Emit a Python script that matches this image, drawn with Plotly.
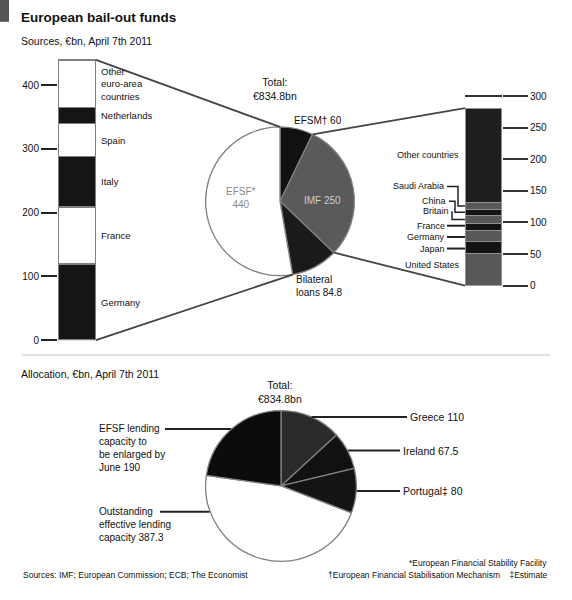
import math
import plotly.graph_objects as go

W, H = 572, 600

# ---------------- data ----------------
efsf_countries = ["Germany", "France", "Italy", "Spain", "Netherlands", "Other euro-area countries"]
efsf_guarantees = [119.4, 89.7, 78.8, 52.4, 25.1, 74.6]

imf_countries = ["United States", "Japan", "Germany", "France", "Britain", "China", "Saudi Arabia", "Other countries"]
imf_contrib = [51, 18.5, 17.5, 11, 13.5, 9.5, 10.5, 149.5]

source_labels = ["EFSM†", "IMF", "Bilateral loans", "EFSF*"]
source_values = [60, 250, 84.8, 440]

alloc_labels = ["Greece", "Ireland", "Portugal‡", "Outstanding effective lending capacity",
                "EFSF lending capacity to be enlarged by June"]
alloc_values = [110, 67.5, 80, 387.3, 190]

left_ticks = [0, 100, 200, 300, 400]
right_ticks = [0, 50, 100, 150, 200, 250, 300]

# ---------------- styles ----------------
efsf_colors = ["#151515", "#ffffff", "#151515", "#ffffff", "#151515", "#ffffff"]
imf_colors = ["#585858", "#141414", "#585858", "#141414", "#585858", "#141414", "#585858", "#1e1e1e"]
source_colors = ["#111111", "#5a5a5a", "#1a1a1a", "#ffffff"]
alloc_colors = ["#2a2a2a", "#111111", "#141414", "#ffffff", "#0c0c0c"]
FONT = "Liberation Sans, Arial, sans-serif"
INK = "#111111"


def px(x):
    return x / W


def py(y):
    return 1 - y / H


# geometry (pixels)
LB = (58, 96)
L0, LK = 343, (343 - 86) / 400
RB = (465, 502)
R0, RK = 288, (288 - 97) / 300
P1 = (280, 203, 75)
P2 = (281, 490, 76)


def left_y(v):
    return L0 - LK * v


def right_y(v):
    return R0 - RK * v


def pie_pt(pie, frac):
    cx, cy, r = pie
    a = 2 * math.pi * frac
    return cx + r * math.sin(a), cy - r * math.cos(a)


fig = go.Figure()

for name, v, c in zip(efsf_countries, efsf_guarantees, efsf_colors):
    fig.add_trace(go.Bar(x=[0], y=[v], name=name, xaxis="x", yaxis="y", width=1,
                         marker=dict(color=c, line=dict(color="#808080", width=1.5))))
for name, v, c in zip(imf_countries, imf_contrib, imf_colors):
    fig.add_trace(go.Bar(x=[0], y=[v], name=name, xaxis="x2", yaxis="y2", width=1,
                         marker=dict(color=c, line=dict(color="#909090", width=1.2))))

fig.add_trace(go.Pie(values=source_values, labels=source_labels, sort=False, direction="clockwise",
                     rotation=0, textinfo="none",
                     marker=dict(colors=source_colors, line=dict(color="#808080", width=1.3)),
                     domain=dict(x=[px(P1[0] - P1[2]), px(P1[0] + P1[2])],
                                 y=[py(P1[1] + P1[2]), py(P1[1] - P1[2])])))
fig.add_trace(go.Pie(values=alloc_values, labels=alloc_labels, sort=False, direction="clockwise",
                     rotation=0, textinfo="none",
                     marker=dict(colors=alloc_colors, line=dict(color="#808080", width=1.3)),
                     domain=dict(x=[px(P2[0] - P2[2]), px(P2[0] + P2[2])],
                                 y=[py(P2[1] + P2[2]), py(P2[1] - P2[2])])))

shapes = []
ann = []


def seg(x0, y0, x1, y1, color="#333", width=1.5):
    shapes.append(dict(type="line", xref="paper", yref="paper", x0=px(x0), y0=py(y0),
                       x1=px(x1), y1=py(y1), line=dict(color=color, width=width)))


def poly(points, color="#222", width=1.5):
    d = "M " + " L ".join(f"{px(x)},{py(y)}" for x, y in points)
    shapes.append(dict(type="path", xref="paper", yref="paper", path=d,
                       line=dict(color=color, width=width)))


def text(x, y, s, size=9, xanchor="left", yanchor="middle", color=INK, align="left", bold=False):
    if bold:
        s = f"<b>{s}</b>"
    ann.append(dict(x=px(x), y=py(y), xref="paper", yref="paper", text=s, showarrow=False,
                    xanchor=xanchor, yanchor=yanchor, align=align, borderpad=0,
                    font=dict(family=FONT, size=size, color=color)))


# header
shapes.append(dict(type="rect", xref="paper", yref="paper", x0=0, x1=px(9), y0=py(22), y1=1,
                   fillcolor="#555", line=dict(width=0)))
text(20, 18, "European bail-out funds", size=13.5, bold=True)
text(20, 41, "Sources, €bn, April 7th 2011", size=10.5)

# left bar labels
cum = 0
for name, v in zip(efsf_countries, efsf_guarantees):
    mid = cum + v / 2
    cum += v
    label = name if name != "Other euro-area countries" else "Other<br>euro-area<br>countries"
    text(100, left_y(mid), label, size=9.5)
efsf_total = cum

# right bar labels and leaders
imf_cum = []
c = 0
for v in imf_contrib:
    imf_cum.append(c)
    c += v
imf_total = c
label_pos = {"United States": (461, None), "Japan": (446, None), "Germany": (446, None),
             "France": (446, None), "Britain": (450, 213), "China": (447, 203),
             "Saudi Arabia": (445, 188), "Other countries": (460, 156)}
label_nudge = {"France": -1.5, "Germany": 0.8, "Japan": 1.0, "United States": -5}
elbow_x = {"Saudi Arabia": 458, "China": 455, "Britain": 452}
for name, v, base in zip(imf_countries, imf_contrib, imf_cum):
    sy = right_y(base + v / 2)
    lx, ly = label_pos[name]
    if ly is None:
        ly = sy + label_nudge.get(name, 0)
    text(lx, ly, name, size=9, xanchor="right")
    if name in elbow_x:
        ex = elbow_x[name]
        poly([(lx + 2, ly), (ex, ly), (ex, sy), (RB[0], sy)], width=1.5)
    elif name in ("Japan", "Germany", "France"):
        seg(lx + 1, ly, RB[0], ly, color="#222", width=2)

# source pie labels
total1 = sum(source_values)
text(275, 90, f"Total:<br>€{total1:g}bn", size=10.5, xanchor="center", align="center")
text(293, 122, f"{source_labels[0]} {source_values[0]:g}", size=10)
text(322, 202, f"{source_labels[1]} {source_values[1]:g}", size=10, xanchor="center", color="#cccccc")
text(295, 288, f"Bilateral<br>loans {source_values[2]:g}", size=10)
text(241, 200, f"{source_labels[3]}<br>{source_values[3]:g}", size=10, xanchor="center",
     align="center", color="#8a8a8a")

# connectors between bars and source pie
fr = [0]
for v in source_values:
    fr.append(fr[-1] + v / total1)
top_pt = pie_pt(P1, 0)
efsf_start = pie_pt(P1, fr[3])
imf_start = pie_pt(P1, fr[1])
imf_end = pie_pt(P1, fr[2])
seg(LB[1], left_y(efsf_total), *top_pt, color="#444", width=1.8)
seg(LB[1], left_y(0), *efsf_start, color="#444", width=1.8)
seg(*imf_start, RB[0], right_y(imf_total), color="#444", width=1.8)
seg(*imf_end, RB[0], right_y(0), color="#444", width=1.8)

# separator
seg(22, 358, 550, 358, color="#c8c8c8", width=1)
text(20, 377, "Allocation, €bn, April 7th 2011", size=10.5)

# allocation pie labels
total2 = sum(alloc_values)
text(280, 395, f"Total:<br>€{total2:g}bn", size=10.5, xanchor="center", align="center")
cx, cy, r = P2
fr2 = [0]
for v in alloc_values:
    fr2.append(fr2[-1] + v / total2)
for i in range(3):
    mx, my = pie_pt(P2, (fr2[i] + fr2[i + 1]) / 2)
    dy = my - cy
    ex = cx + math.sqrt(max(r * r - dy * dy, 0))
    tx = 409 if i == 0 else 402
    seg(ex, my, tx - 2, my, color="#222", width=2)
    text(tx, my, f"{alloc_labels[i]} {alloc_values[i]:g}", size=10.5)
# EFSF enlargement label (left, upper)
mx, my = pie_pt(P2, (fr2[4] + fr2[5]) / 2)
dy = my - cy
ex = cx - math.sqrt(max(r * r - dy * dy, 0))
seg(165, my, ex, my, color="#222", width=2)
text(98, my - 7, f"EFSF lending<br>capacity to<br>be enlarged by<br>June {alloc_values[4]:g}", size=10,
     yanchor="top")
# outstanding label (left, lower)
oy = 516
dy = oy - cy
ex = cx - math.sqrt(max(r * r - dy * dy, 0))
seg(160, oy, ex, oy, color="#222", width=2)
text(98, oy - 7, f"Outstanding<br>effective lending<br>capacity {alloc_values[3]:g}", size=10,
     yanchor="top")

# footer
text(22, 580, "Sources: IMF; European Commission; ECB; The Economist", size=8.5)
text(548, 568, "*European Financial Stability Facility", size=8.5, xanchor="right")
text(548, 580, "†European Financial Stabilisation Mechanism    ‡Estimate", size=8.5, xanchor="right")

fig.update_layout(
    width=W, height=H, autosize=False, margin=dict(l=0, r=0, t=0, b=0),
    paper_bgcolor="white", plot_bgcolor="rgba(0,0,0,0)", showlegend=False, barmode="stack",
    font=dict(family=FONT, size=9, color=INK),
    xaxis=dict(domain=[px(LB[0]), px(LB[1])], range=[-0.5, 0.5], visible=False, fixedrange=True),
    yaxis=dict(domain=[py(L0), py(L0 - LK * 450)], range=[0, 450], tickvals=left_ticks,
               ticks="outside", ticklen=16, tickwidth=2, tickcolor="#222", showgrid=False,
               zeroline=False, showline=False, tickfont=dict(size=10, color=INK), anchor="x"),
    xaxis2=dict(domain=[px(RB[0]), px(RB[1])], range=[-0.5, 0.5], visible=False, anchor="y2"),
    yaxis2=dict(domain=[py(R0), py(R0 - RK * 320)], range=[0, 320], tickvals=right_ticks,
                side="right", anchor="x2", ticks="outside", ticklen=25, tickwidth=2,
                tickcolor="#333", showgrid=True, gridcolor="#333", gridwidth=1.5, zeroline=False,
                showline=False, tickfont=dict(size=10, color=INK)),
    shapes=shapes, annotations=ann,
)

fig.write_html("out.html", config={"displayModeBar": False},
               post_script="document.body.style.margin='0px';")
